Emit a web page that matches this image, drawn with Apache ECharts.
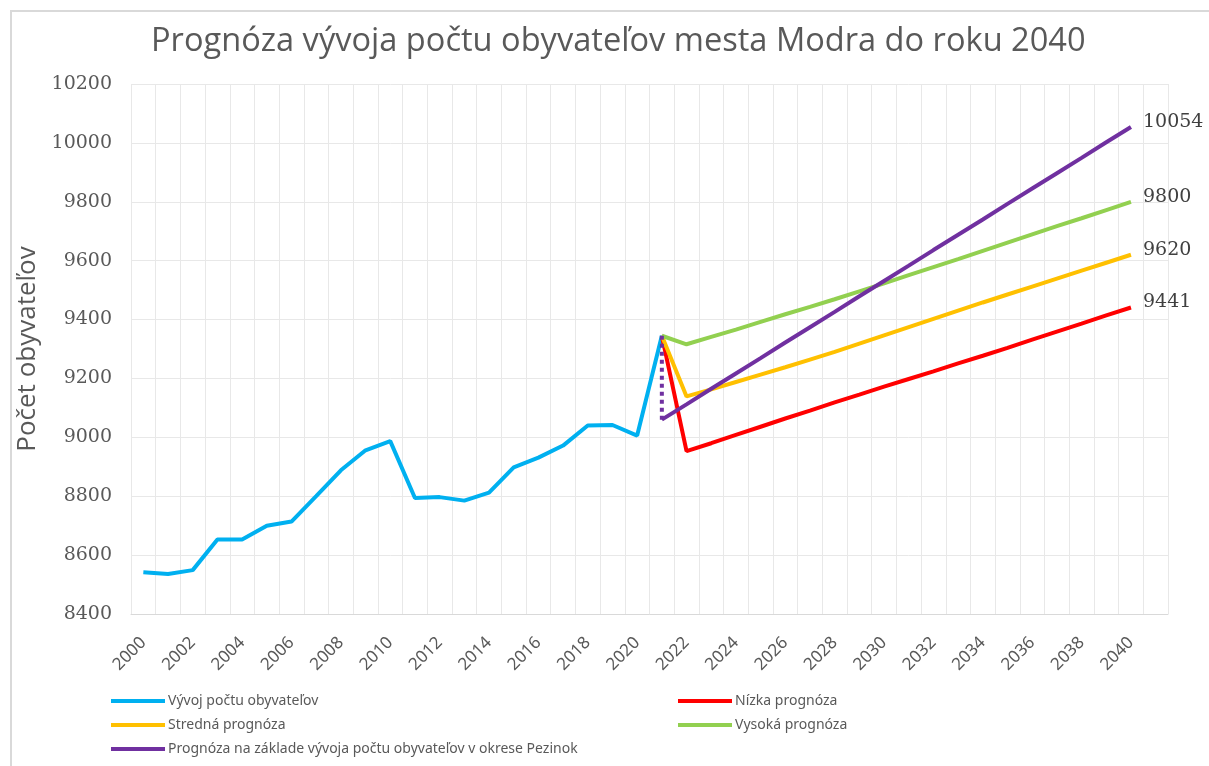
<!DOCTYPE html>
<html>
<head>
<meta charset="utf-8">
<script src="https://cdn.jsdelivr.net/npm/echarts@6/dist/echarts.min.js"></script>
<style>
  html, body { margin: 0; padding: 0; background: #fff; }
  #chart { width: 1209px; height: 766px; }
</style>
</head>
<body>
<div id="chart"></div>
<script>
// roky na osi x (2041 je prazdny stlpec na konci ako v Exceli)
var years = ['2000', '2001', '2002', '2003', '2004', '2005', '2006', '2007', '2008', '2009',
  '2010', '2011', '2012', '2013', '2014', '2015', '2016', '2017', '2018', '2019',
  '2020', '2021', '2022', '2023', '2024', '2025', '2026', '2027', '2028', '2029',
  '2030', '2031', '2032', '2033', '2034', '2035', '2036', '2037', '2038', '2039',
  '2040', '2041']

// vyvoj poctu obyvatelov 2000 - 2021
var vyvoj = [8542, 8536, 8549, 8653, 8653, 8700, 8714, 8800, 8888, 8956,
  8987, 8794, 8797, 8785, 8812, 8898, 8931, 8972, 9040, 9042,
  9006, 9345]

// prognozy 2021 - 2040
var nizka = [9345, 8953, 8980, 9008, 9036, 9064, 9091, 9119, 9145, 9172,
  9198, 9224, 9251, 9277, 9304, 9332, 9359, 9386, 9414, 9441]
var stredna = [9345, 9139, 9163, 9188, 9213, 9238, 9264, 9290, 9318, 9346,
  9374, 9402, 9430, 9458, 9485, 9512, 9539, 9566, 9593, 9620]
var vysoka = [9345, 9316, 9341, 9366, 9392, 9418, 9443, 9469, 9496, 9523,
  9551, 9578, 9605, 9633, 9661, 9689, 9717, 9744, 9772, 9800]
var pezinok = [9060, 9112, 9165, 9217, 9269, 9322, 9374, 9426, 9479, 9531,
  9583, 9636, 9688, 9740, 9793, 9845, 9897, 9949, 10002, 10054]
// bodkovany prechod v roku 2021
var prechod = [9345, 9060]

var yTicks = [8400, 10200, 200]

var names = [
  'Vývoj počtu obyvateľov',
  'Nízka prognóza',
  'Stredná prognóza',
  'Vysoká prognóza',
  'Prognóza na základe vývoja počtu obyvateľov v okrese Pezinok'
]
var colors = ['#00B0F0', '#FF0000', '#FFC000', '#92D050', '#7030A0']

// doplni null-mi aby seria zacinala v danom roku
function fromYear(start, vals) {
  var out = []
  var idx = years.indexOf(start)
  for (var i = 0; i < idx; i++) out.push(null)
  return out.concat(vals)
}

function lineSeries(i, data, withLabel) {
  var s = {
    name: names[i],
    type: 'line',
    data: data,
    showSymbol: false,
    symbol: 'none',
    lineStyle: { color: colors[i], width: 4 },
    itemStyle: { color: colors[i] },
    animation: false
  }
  if (withLabel) {
    // hodnota na konci ciary (rok 2040)
    s.endLabel = {
      show: true,
      distance: 12,
      offset: [0, -5],
      fontFamily: 'DejaVu Serif',
      fontSize: 19,
      color: '#404040',
      formatter: function (p) { return String(p.value) }
    }
  }
  return s
}

var chart = echarts.init(document.getElementById('chart'))

chart.setOption({
  backgroundColor: '#fff',
  title: {
    text: 'Prognóza vývoja počtu obyvateľov mesta Modra do roku 2040',
    left: 146,
    top: 20,
    textStyle: {
      fontFamily: 'Open Sans',
      fontWeight: 'normal',
      fontSize: 32.6,
      color: '#595959'
    }
  },
  graphic: [{
    type: 'rect',
    shape: { x: 11, y: 11, width: 1210, height: 770 },
    style: { fill: 'none', stroke: '#d9d9d9', lineWidth: 2 },
    silent: true
  }],
  legend: [{
    data: [names[0], names[2], names[4]],
    orient: 'vertical',
    left: 106,
    top: 687,
    icon: 'rect',
    itemWidth: 54,
    itemHeight: 4,
    itemGap: 6,
    textStyle: { fontFamily: 'Noto Sans', fontSize: 14, color: '#595959', lineHeight: 18, padding: [0, 0, 0, -2] }
  }, {
    data: [names[1], names[3]],
    orient: 'vertical',
    left: 673,
    top: 687,
    icon: 'rect',
    itemWidth: 54,
    itemHeight: 4,
    itemGap: 6,
    textStyle: { fontFamily: 'Noto Sans', fontSize: 14, color: '#595959', lineHeight: 18, padding: [0, 0, 0, -2] }
  }],
  grid: {
    left: 131,
    right: 41,
    top: 84,
    bottom: 152,
    containLabel: false
  },
  xAxis: {
    type: 'category',
    data: years,
    boundaryGap: true,
    axisLine: { lineStyle: { color: '#d9d9d9', width: 1 } },
    axisTick: { show: false },
    axisLabel: {
      interval: 1,
      rotate: 45,
      margin: 26,
      fontFamily: 'Noto Sans',
      fontSize: 17,
      color: '#595959'
    },
    splitLine: { show: true, interval: 0, lineStyle: { color: '#e8e8e8', width: 1 } }
  },
  yAxis: {
    type: 'value',
    min: yTicks[0],
    max: yTicks[1],
    interval: yTicks[2],
    name: 'Počet obyvateľov',
    nameLocation: 'middle',
    nameRotate: 90,
    nameGap: 76,
    nameTextStyle: { fontFamily: 'Open Sans', fontSize: 26, color: '#595959' },
    axisLine: { show: false },
    axisTick: { show: false },
    axisLabel: {
      margin: 19,
      fontFamily: 'DejaVu Serif',
      fontSize: 19,
      color: '#595959',
      formatter: function (v) { return String(v) }
    },
    splitLine: { lineStyle: { color: '#e8e8e8', width: 1 } }
  },
  series: [
    lineSeries(0, vyvoj, false),
    lineSeries(1, fromYear('2021', nizka), true),
    lineSeries(2, fromYear('2021', stredna), true),
    lineSeries(3, fromYear('2021', vysoka), true),
    lineSeries(4, fromYear('2021', pezinok), true),
    {
      name: 'prechod',
      type: 'line',
      data: [['2021', prechod[0]], ['2021', prechod[1]]],
      symbol: 'none',
      lineStyle: { color: colors[4], width: 4, type: [4, 4] },
      animation: false
    }
  ]
})
</script>
</body>
</html>
